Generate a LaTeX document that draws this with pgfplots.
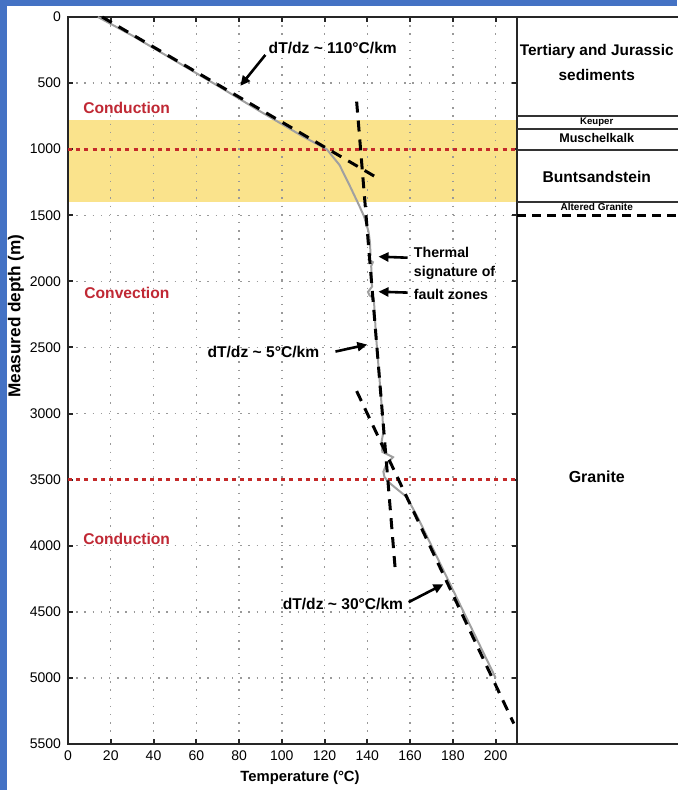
\documentclass[border=0pt]{standalone}
\usepackage{fontspec}
\setmainfont{Liberation Sans}
\usepackage{pgfplots}
\pgfplotsset{compat=1.18}
\usetikzlibrary{arrows.meta}

\definecolor{bgblue}{RGB}{68,114,196}
\definecolor{sandband}{RGB}{250,227,140}
\definecolor{zonered}{RGB}{196,42,42}
\definecolor{tempgray}{RGB}{160,160,160}
\definecolor{labelred}{RGB}{192,40,52}

\newcommand{\lbl}[1][7.8]{\fontsize{#1}{#1}\selectfont\bfseries}

\begin{document}
\begin{tikzpicture}
\fill[bgblue] (0,0) rectangle (338.5pt,395pt);
\fill[white] (3.5pt,0) rectangle (338.5pt,392pt);
% Buntsandstein / Muschelkalk interval shaded behind the grid
\fill[sandband] (34pt,294pt) rectangle (258.5pt,335pt);

\begin{axis}[
  at={(146.25pt,204.75pt)}, anchor=center,
  width=224.5pt, height=363.5pt, scale only axis,
  xmin=0, xmax=210, ymin=0, ymax=5500, y dir=reverse,
  xtick={0,20,...,200}, ytick={0,500,...,5500},
  tick align=inside, major tick length=2.5pt,
  grid=major,
  major grid style={gray!80, line width=0.7pt, dash pattern=on 0.7pt off 3.4pt},
  axis line style={line width=1pt, black!85},
  tick style={line width=1pt, black!85},
  tick label style={font=\fontsize{7}{8}\selectfont},
  /pgf/number format/assume math mode=true,
  /pgf/number format/set thousands separator={},
  clip=false,
]

% regime boundaries
\addplot[zonered, line width=1.5pt, dash pattern=on 2pt off 2.1pt] coordinates {(0,1000) (210,1000)};
\addplot[zonered, line width=1.5pt, dash pattern=on 2pt off 2.1pt] coordinates {(0,3500) (210,3500)};

% measured temperature log
\addplot[tempgray, line width=1pt] coordinates {
  (14,0) (30,140) (50,330) (70,520) (90,715) (100,810) (110,905) (121,1000)
  (127,1120) (132,1284) (136,1420) (138.5,1510) (140.5,1620) (141.2,1700)
  (141.5,1800) (140.6,1835) (142.6,1855) (141.8,1885) (142,1950) (142.2,2040)
  (140.3,2080) (141,2105) (143,2130) (143.3,2200) (144,2400) (145,2600)
  (146,2800) (147,3000) (147.5,3140) (146.7,3210) (147,3290) (152,3330)
  (149,3380) (147.5,3440) (148,3480) (150,3520) (158.5,3633) (164,3800)
  (170,4000) (185,4500) (200,5000)
};

% gradient fits
\addplot[black, line width=1.5pt, dash pattern=on 5.5pt off 4pt] coordinates {(16,0) (146,1230)};
\addplot[black, line width=1.5pt, dash pattern=on 5.5pt off 4pt] coordinates {(135,640) (153,4170)};
\addplot[black, line width=1.5pt, dash pattern=on 5.5pt off 4pt] coordinates {(135,2830) (208.5,5345)};

% annotations
\node[anchor=west, labelred, inner sep=0] at (axis cs:7,687) {\lbl[7.8]Conduction};
\node[anchor=west, labelred, inner sep=0] at (axis cs:7.5,2085) {\lbl[7.8]Convection};
\node[anchor=west, labelred, inner sep=0] at (axis cs:7,3951) {\lbl[7.8]Conduction};

\node[anchor=west, inner sep=0] at (axis cs:93.7,234) {\lbl dT/dz \textasciitilde{} 110°C/km};
\draw[line width=1.3pt, -{Triangle[length=5pt,width=4.5pt]}] (axis cs:92.3,287) -- (axis cs:80.6,521);

\node[anchor=west, inner sep=0] at (axis cs:65.1,2531) {\lbl dT/dz \textasciitilde{} 5°C/km};
\draw[line width=1.3pt, -{Triangle[length=5pt,width=4.5pt]}] (axis cs:125.1,2531) -- (axis cs:140,2478);

\node[anchor=east, inner sep=0] at (axis cs:156.9,4442) {\lbl dT/dz \textasciitilde{} 30°C/km};
\draw[line width=1.3pt, -{Triangle[length=5pt,width=4.5pt]}] (axis cs:159.3,4427) -- (axis cs:175.6,4291);

\node[anchor=west, inner sep=0] at (axis cs:161.6,1783) {\lbl[7.1]Thermal};
\node[anchor=west, inner sep=0] at (axis cs:161.6,1934) {\lbl[7.1]signature of};
\node[anchor=west, inner sep=0] at (axis cs:161.6,2100) {\lbl[7.1]fault zones};
\draw[line width=1.3pt, -{Triangle[length=5pt,width=4.5pt]}] (axis cs:158.8,1821) -- (axis cs:145.2,1813);
\draw[line width=1.3pt, -{Triangle[length=5pt,width=4.5pt]}] (axis cs:158.8,2085) -- (axis cs:145.2,2078);

% stratigraphic column
\draw[line width=1pt, black!85] (axis cs:210,0) -- (axis cs:290,0);
\draw[line width=1pt, black!85] (axis cs:210,5500) -- (axis cs:290,5500);
\draw[line width=0.8pt, black!80] (axis cs:210,748) -- (axis cs:290,748);
\draw[line width=0.8pt, black!80] (axis cs:210,846) -- (axis cs:290,846);
\draw[line width=0.8pt, black!80] (axis cs:210,1008) -- (axis cs:290,1008);
\draw[line width=0.8pt, black!80] (axis cs:210,1400) -- (axis cs:290,1400);
\draw[line width=1.5pt, black, dash pattern=on 4.5pt off 3pt] (axis cs:210,1500) -- (axis cs:290,1500);

\node[inner sep=0] at (axis cs:247.3,264) {\lbl[7.7]Tertiary and Jurassic};
\node[inner sep=0] at (axis cs:247.3,438) {\lbl[7.7]sediments};
\node[inner sep=0] at (axis cs:247.3,795) {\lbl[4.8]Keuper};
\node[inner sep=0] at (axis cs:247.3,916) {\lbl[6.3]Muschelkalk};
\node[inner sep=0] at (axis cs:247.3,1209) {\lbl[7.8]Buntsandstein};
\node[inner sep=0] at (axis cs:247.3,1440) {\lbl[5]Altered Granite};
\node[inner sep=0] at (axis cs:247.3,3475) {\lbl[8]Granite};
\end{axis}

\node[rotate=90] at (8pt,237pt) {\lbl[8.6]Measured depth (m)};
\node at (150pt,6pt) {\lbl[7.4]Temperature (°C)};

\pgfresetboundingbox
\path (0,0) rectangle (338.5pt,395pt);
\end{tikzpicture}
\end{document}
